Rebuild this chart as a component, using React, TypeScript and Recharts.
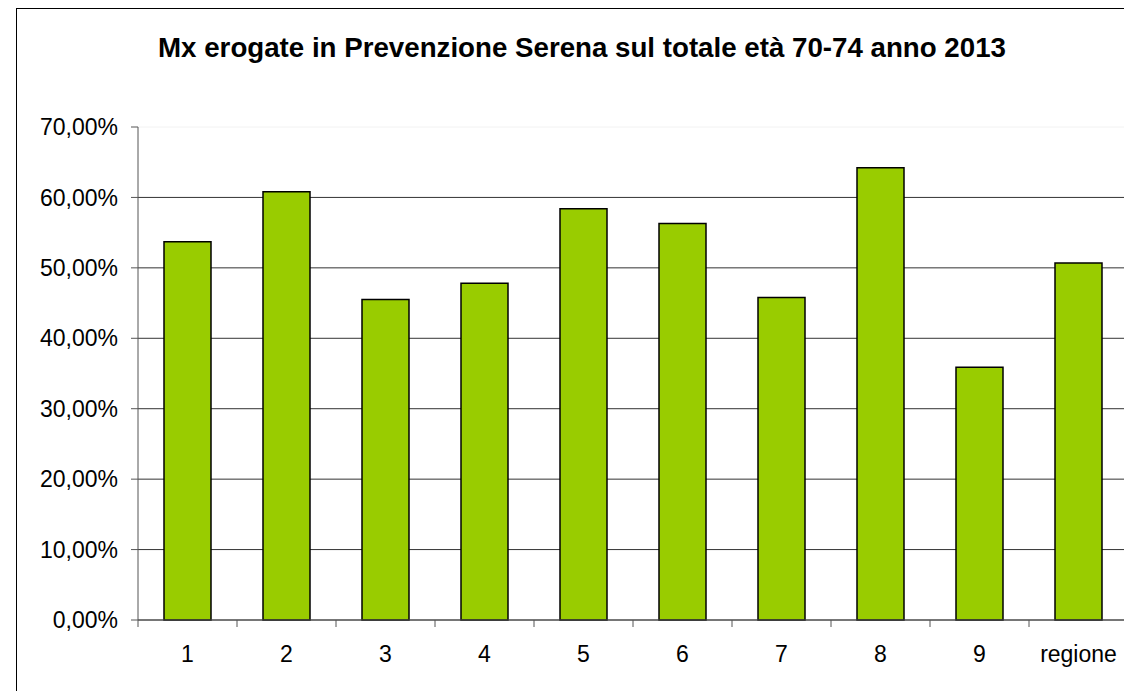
import { Bar, BarChart, CartesianGrid, XAxis, YAxis } from "recharts"

const categories = ["1", "2", "3", "4", "5", "6", "7", "8", "9", "regione"]
const values = [53.7, 60.8, 45.5, 47.8, 58.4, 56.3, 45.8, 64.2, 35.9, 50.7]
const yTicks = [0, 10, 20, 30, 40, 50, 60, 70]
const title = "Mx erogate in Prevenzione Serena sul totale età 70-74 anno 2013"

const data = categories.map((name, i) => ({ name, value: values[i] }))

const FONT = "'Liberation Sans', Arial, sans-serif"
const CHART_W = 1130
const CHART_H = 691
const Y_AXIS_W = 138
const MARGIN_R = 2
const HALF_BAND = (CHART_W - Y_AXIS_W - MARGIN_R) / categories.length / 2

const formatPct = (v: number) => v.toFixed(2).replace(".", ",") + "%"

// category label with the tick mark on the left band edge, like excel does
function CategoryTick(props: any) {
    const { x, y, payload } = props
    return (
        <g>
            <line x1={x - HALF_BAND} y1={y} x2={x - HALF_BAND} y2={y + 7} stroke="#555" strokeWidth={1} />
            <text x={x} y={y + 42} textAnchor="middle" fontFamily={FONT} fontSize={23} fill="#000">
                {payload.value}
            </text>
        </g>
    )
}

function GridLine(props: any) {
    const { x1, x2, y1, y2, index } = props
    const top = index === yTicks.length - 1
    return (
        <line
            key={"g" + index}
            x1={x1}
            x2={x2}
            y1={y1}
            y2={y2}
            stroke={top ? "#f2f2f2" : "#333"}
            strokeWidth={1}
        />
    )
}

export default function App() {
    return (
        <div
            style={{
                position: "absolute",
                left: 0,
                top: 0,
                width: 1124,
                height: 691,
                overflow: "hidden",
                background: "#fff",
            }}
        >
            <div
                style={{
                    position: "absolute",
                    left: 16,
                    top: 8,
                    width: 1130,
                    height: 700,
                    border: "1px solid #000",
                }}
            />
            <svg
                width={1124}
                height={100}
                style={{ position: "absolute", left: 0, top: 0 }}
            >
                <text x={582} y={57} textAnchor="middle" fontFamily={FONT} fontWeight="bold" fontSize={27.7} fill="#000">
                    {title}
                </text>
            </svg>
            <div style={{ position: "absolute", left: 0, top: 0 }}>
                <BarChart
                    width={CHART_W}
                    height={CHART_H}
                    data={data}
                    margin={{ top: 127, right: MARGIN_R, left: 0, bottom: 11 }}
                >
                    <CartesianGrid vertical={false} horizontal={GridLine} />
                    <XAxis
                        dataKey="name"
                        height={60}
                        tickSize={0}
                        tickMargin={0}
                        tickLine={false}
                        axisLine={{ stroke: "#555" }}
                        tick={<CategoryTick />}
                        interval={0}
                    />
                    <YAxis
                        width={Y_AXIS_W}
                        domain={[0, 70]}
                        ticks={yTicks}
                        interval={0}
                        tickFormatter={formatPct}
                        tickSize={7}
                        tickMargin={13}
                        axisLine={{ stroke: "#555" }}
                        tickLine={{ stroke: "#555" }}
                        tick={{ fontFamily: FONT, fontSize: 23, fill: "#000" }}
                    />
                    <Bar
                        dataKey="value"
                        fill="#99CC00"
                        stroke="#000"
                        strokeWidth={1.5}
                        barSize={47}
                        isAnimationActive={false}
                    />
                </BarChart>
            </div>
        </div>
    )
}
